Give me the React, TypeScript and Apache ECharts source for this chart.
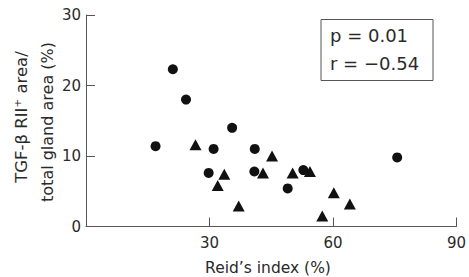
import React, { useEffect, useRef } from "react";
import * as echarts from "echarts";

const circleX = [16.9, 21.1, 24.3, 35.5, 31.0, 29.8, 41.0, 75.6, 40.9, 52.8, 49.0];
const circleY = [11.4, 22.3, 18.0, 14.0, 11.0, 7.6, 11.0, 9.8, 7.8, 8.0, 5.4];
const triangleX = [26.6, 45.2, 33.6, 32.0, 43.0, 50.2, 54.4, 60.2, 37.1, 64.1, 57.4];
const triangleY = [11.6, 10.0, 7.4, 5.8, 7.6, 7.6, 7.8, 4.8, 2.9, 3.2, 1.5];
const xTicks = [0, 30, 60, 90];
const yTicks = [0, 10, 20, 30];
const statLines = ["p = 0.01", "r = \u22120.54"];
const xTitle = "Reid\u2019s index (%)";
const yTitleLines = ["TGF-\u03b2 RII\u207a area/", "total gland area (%)"];

const FONT = "DejaVu Sans";
const TEXT = "#2a2a2a";
const AXIS = "#555";

export default function App() {
  const ref = useRef<HTMLDivElement>(null);
  useEffect(() => {
    if (!ref.current) return;
    const chart = echarts.init(ref.current, undefined, { renderer: "svg" });
    const pair = (xs: number[], ys: number[]) => xs.map((x, i) => [x, ys[i]]);
    chart.setOption({
      animation: false,
      backgroundColor: "#fff",
      grid: { left: 86, right: 6, top: 15, bottom: 50.5 },
      xAxis: {
        type: "value",
        min: xTicks[0],
        max: xTicks[xTicks.length - 1],
        interval: 30,
        splitLine: { show: false },
        axisLine: { lineStyle: { color: AXIS, width: 1 } },
        axisTick: { show: true, inside: true, length: 9, lineStyle: { color: AXIS } },
        axisLabel: {
          color: TEXT,
          fontFamily: FONT,
          fontSize: 15,
          margin: 9,
          formatter: (v: number) => (v === 0 ? "" : String(v)),
        },
      },
      yAxis: {
        type: "value",
        min: yTicks[0],
        max: yTicks[yTicks.length - 1],
        interval: 10,
        splitLine: { show: false },
        axisLine: { show: true, lineStyle: { color: AXIS, width: 1 } },
        axisTick: { show: true, inside: true, length: 9, lineStyle: { color: AXIS } },
        axisLabel: { color: TEXT, fontFamily: FONT, fontSize: 15, margin: 5 },
      },
      series: [
        {
          type: "scatter",
          data: pair(circleX, circleY),
          symbol: "circle",
          symbolSize: 10,
          itemStyle: { color: "#111", opacity: 1 },
        },
        {
          type: "scatter",
          data: pair(triangleX, triangleY),
          symbol: "triangle",
          symbolSize: [12, 11],
          itemStyle: { color: "#111", opacity: 1 },
        },
      ],
      graphic: [
        {
          type: "rect",
          shape: { x: 321, y: 19.5, width: 112, height: 61 },
          style: { fill: "none", stroke: "#555", lineWidth: 1 },
        },
        {
          type: "text",
          x: 330,
          y: 35,
          style: { text: statLines[0], font: `18px "${FONT}"`, fill: TEXT, verticalAlign: "middle" },
        },
        {
          type: "text",
          x: 330,
          y: 63,
          style: { text: statLines[1], font: `18px "${FONT}"`, fill: TEXT, verticalAlign: "middle" },
        },
        {
          type: "text",
          x: 268,
          y: 268,
          style: { text: xTitle, font: `15.5px "${FONT}"`, fill: TEXT, align: "center", verticalAlign: "middle" },
        },
        {
          type: "text",
          x: 21,
          y: 117,
          rotation: Math.PI / 2,
          style: { text: yTitleLines[0], font: `16.5px "${FONT}"`, fill: TEXT, align: "center", verticalAlign: "middle" },
        },
        {
          type: "text",
          x: 47,
          y: 122,
          rotation: Math.PI / 2,
          style: { text: yTitleLines[1], font: `16px "${FONT}"`, fill: TEXT, align: "center", verticalAlign: "middle" },
        },
      ],
    });
    return () => chart.dispose();
  }, []);
  return <div ref={ref} style={{ width: 469, height: 277, position: "absolute", left: 0, top: 0 }} />;
}
